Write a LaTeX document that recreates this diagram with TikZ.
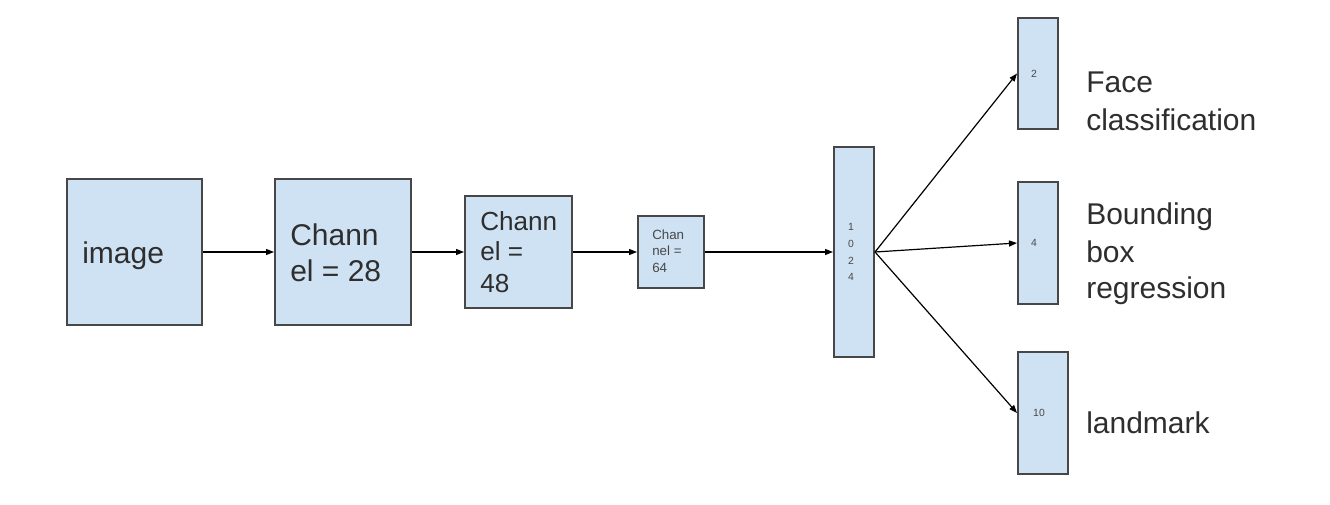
\documentclass[tikz,border=0pt]{standalone}
\usepackage{fontspec}
\setmainfont{Liberation Sans}
\usetikzlibrary{arrows.meta}
\definecolor{boxfill}{HTML}{CFE2F3}
\definecolor{boxline}{HTML}{474747}
\definecolor{txt}{HTML}{2E2E2E}
\definecolor{smalltxt}{HTML}{484848}
\begin{document}
\begin{tikzpicture}[x=0.75pt,y=-0.75pt,
  blk/.style args={#1x#2}{draw=boxline, fill=boxfill, line width=1.5pt,
    minimum width=#1*0.75pt-1.5pt, minimum height=#2*0.75pt-1.5pt, inner sep=0pt},
  bigtxt/.style={font=\fontsize{22.5}{27}\selectfont, text=txt, inner sep=0pt, anchor=base west},
  midtxt/.style={font=\fontsize{19.6}{23.5}\selectfont, text=txt, inner sep=0pt, anchor=base west},
  smltxt/.style={font=\fontsize{10}{12}\selectfont, text=smalltxt, inner sep=0pt, anchor=base west},
  digtxt/.style={font=\fontsize{7.8}{9}\selectfont, text=smalltxt, inner sep=0pt, anchor=base},
  arr/.style={-{Triangle[length=6pt,width=4.5pt]}, line width=0.9pt, black}]
\useasboundingbox (0,0) rectangle (1330,504);
% boxes
\node[blk=137x148] (img) at (134.5,252) {};
\node[blk=138x148] (c28) at (343,252) {};
\node[blk=109x114] (c48) at (518.5,252) {};
\node[blk=68x74] (c64) at (671,252) {};
\node[blk=42x212] (f1024) at (854,252) {};
\node[blk=42x113] (b2) at (1038,73.5) {};
\node[blk=42x124] (b4) at (1038,243) {};
\node[blk=52x124] (b10) at (1043,413) {};
% texts in boxes
\node[bigtxt] (timg) at (82,263) {image};
\node[bigtxt] (t28a) at (290,245) {Chann};
\node[bigtxt] (t28b) at (290,281) {el = 28};
\node[midtxt] (t48a) at (480,230) {Chann};
\node[midtxt] (t48b) at (480,260) {el =};
\node[midtxt] (t48c) at (480,292) {48};
\node[smltxt] (t64a) at (652,239) {Chan};
\node[smltxt] (t64b) at (652,255) {nel =};
\node[smltxt] (t64c) at (652,272) {64};
\node[digtxt] (d1) at (851,230.7) {1};
\node[digtxt] (d2) at (851,247.4) {0};
\node[digtxt] (d3) at (851,264) {2};
\node[digtxt] (d4) at (851,280.7) {4};
\node[digtxt] (t2) at (1034,77) {2};
\node[digtxt] (t4) at (1034,246.5) {4};
\node[digtxt] (t10) at (1039,416.5) {10};
% labels
\node[bigtxt] (lf1) at (1086,92.7) {Face};
\node[bigtxt] (lf2) at (1086,130) {classification};
\node[bigtxt] (lb1) at (1086,224) {Bounding};
\node[bigtxt] (lb2) at (1086,262) {box};
\node[bigtxt] (lb3) at (1086,298) {regression};
\node[bigtxt] (ll) at (1086,433) {landmark};
% connectors
\draw[arr] (img.east) -- (c28.west);
\draw[arr] (c28.east) -- (c48.west);
\draw[arr] (c48.east) -- (c64.west);
\draw[arr] (c64.east) -- (f1024.west);
\draw[arr] (f1024.east) -- (b2.west);
\draw[arr] (f1024.east) -- (b4.west);
\draw[arr] (f1024.east) -- (b10.west);
\end{tikzpicture}
\end{document}
